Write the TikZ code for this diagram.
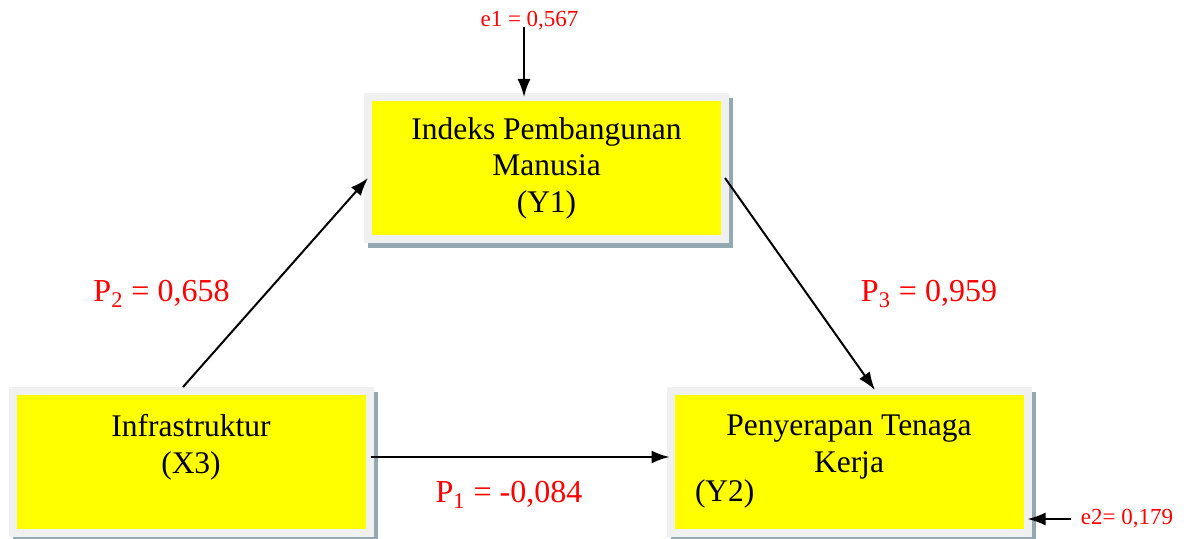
\documentclass[tikz,border=0pt]{standalone}
\usepackage{fontspec}
\setmainfont{Liberation Serif}
\usetikzlibrary{arrows.meta,positioning}
\definecolor{boxyellow}{RGB}{255,255,0}
\definecolor{boxframe}{RGB}{240,240,240}
\definecolor{boxshadow}{RGB}{147,168,176}
\tikzstyle{block}=[rectangle, fill=boxyellow, draw=boxframe, line width=4pt, minimum width=178.5pt, minimum height=71pt, inner sep=0pt, align=center, font=\fontsize{15.75}{18.25}\selectfont, preaction={draw=boxshadow, fill=boxshadow, transform canvas={shift={(2pt,-2.5pt)}}}]
\tikzstyle{coef}=[text=red, font=\fontsize{16}{19}\selectfont, anchor=base]
\tikzstyle{err}=[text=red, font=\fontsize{11.5}{14}\selectfont, anchor=base]

\begin{document}
\begin{tikzpicture}[x=0.5pt, y=-0.5pt, >={Latex[length=9pt,width=6.5pt]}, line width=1pt]
    \useasboundingbox (0,0) rectangle (1184,539);
    \node [block] (y1) at (546.5,168) {Indeks Pembangunan\\Manusia\\(Y1)};
    \node [block] (x3) at (191,462) {Infrastruktur\\(X3)\\\mbox{}};
    \node [block] (y2) at (849,462) {Penyerapan Tenaga\\Kerja\\[-3.5pt]\makebox[154pt][l]{(Y2)}};
    % error terms
    \node [err] (e1lbl) at (529.5,27) {e1 = 0,567};
    \node [err] (e2lbl) at (1127,525) {e2= 0,179};
    \node [coordinate] (e1) at (524,27) {};
    \node [coordinate] (e2) at (1071,519) {};
    % paths
    \path[->] ([xshift=-4pt]x3.north) edge ([xshift=2pt,yshift=-5pt]y1.west);
    \path[->] ([xshift=-2pt,yshift=-5pt]y1.east) edge ([xshift=13pt,yshift=-1.5pt]y2.north);
    \path[->] ([xshift=-1.5pt,yshift=2.5pt]x3.east) edge ([xshift=1.5pt,yshift=2.5pt]y2.west);
    \path[->] (e1) edge ([yshift=-2pt]e1 |- y1.north);
    \path[->] (e2) edge ([xshift=-2pt]e2 -| y2.east);
    % coefficients
    \node [coef] (p2) at (161.5,302) {P\textsubscript{2} = 0,658};
    \node [coef] (p3) at (929,302) {P\textsubscript{3} = 0,959};
    \node [coef] (p1) at (509,503) {P\textsubscript{1} = -0,084};
\end{tikzpicture}
\end{document}
